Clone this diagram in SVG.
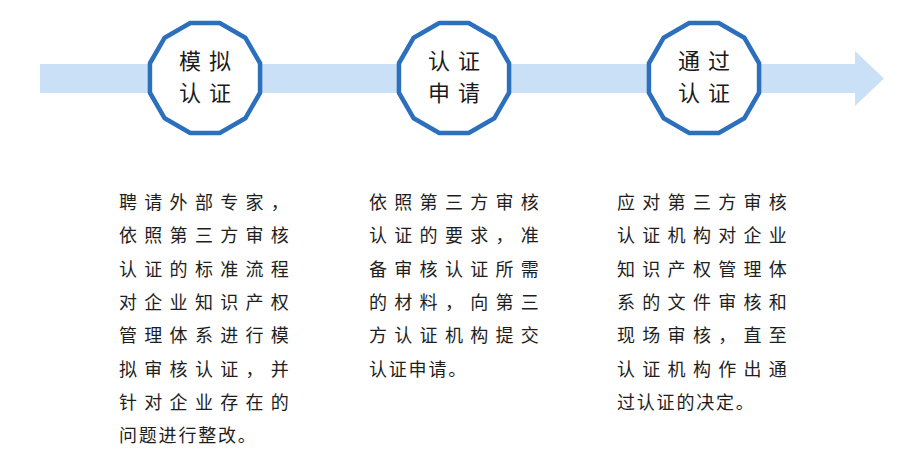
<svg xmlns="http://www.w3.org/2000/svg" width="908" height="463" viewBox="0 0 908 463">
<style>
.lbl{font-family:"Noto Sans CJK SC","Noto Sans CJK JP",sans-serif;font-size:22px;fill:#1a1a1a;letter-spacing:8px;text-anchor:middle}
.body{font-family:"Noto Sans CJK SC","Noto Sans CJK JP",sans-serif;font-size:18px;fill:#1e1e1e}
.j{letter-spacing:7.3px}
.l{letter-spacing:1.8px}
.oct{fill:#ffffff;stroke:#2b6fbd;stroke-width:4.5;stroke-linejoin:round}
</style>
<defs>
<polygon id="dodec" points="55.06,14.75 40.3,40.3 14.75,55.06 -14.75,55.06 -40.3,40.3 -55.06,14.75 -55.06,-14.75 -40.3,-40.3 -14.75,-55.06 14.75,-55.06 40.3,-40.3 55.06,-14.75"/>
</defs>
<rect width="908" height="463" fill="#ffffff"/>
<g id="connectors">
<polygon id="timeline-arrow" points="40,64 855,64 855,51 884,78.5 855,106 855,93 40,93" fill="#c9e0f7"/>
</g>
<g id="node-1">
<use href="#dodec" class="oct" transform="translate(205,78)"/>
<text class="lbl" x="209" y="69">模拟</text>
<text class="lbl" x="209" y="101">认证</text>
</g>
<g id="node-2">
<use href="#dodec" class="oct" transform="translate(454,78)"/>
<text class="lbl" x="458" y="69">认证</text>
<text class="lbl" x="458" y="101">申请</text>
</g>
<g id="node-3">
<use href="#dodec" class="oct" transform="translate(704,78)"/>
<text class="lbl" x="708" y="69">通过</text>
<text class="lbl" x="708" y="101">认证</text>
</g>
<g id="desc-1" class="body">
<text class="j" x="119" y="209">聘请外部专家，</text>
<text class="j" x="119" y="242.3">依照第三方审核</text>
<text class="j" x="119" y="275.6">认证的标准流程</text>
<text class="j" x="119" y="308.9">对企业知识产权</text>
<text class="j" x="119" y="342.2">管理体系进行模</text>
<text class="j" x="119" y="375.5">拟审核认证，并</text>
<text class="j" x="119" y="408.8">针对企业存在的</text>
<text class="l" x="119" y="442.1">问题进行整改。</text>
</g>
<g id="desc-2" class="body">
<text class="j" x="369" y="209">依照第三方审核</text>
<text class="j" x="369" y="242.3">认证的要求，准</text>
<text class="j" x="369" y="275.6">备审核认证所需</text>
<text class="j" x="369" y="308.9">的材料，向第三</text>
<text class="j" x="369" y="342.2">方认证机构提交</text>
<text class="l" x="369" y="375.5">认证申请。</text>
</g>
<g id="desc-3" class="body">
<text class="j" x="617" y="209">应对第三方审核</text>
<text class="j" x="617" y="242.3">认证机构对企业</text>
<text class="j" x="617" y="275.6">知识产权管理体</text>
<text class="j" x="617" y="308.9">系的文件审核和</text>
<text class="j" x="617" y="342.2">现场审核，直至</text>
<text class="j" x="617" y="375.5">认证机构作出通</text>
<text class="l" x="617" y="408.8">过认证的决定。</text>
</g>
</svg>
